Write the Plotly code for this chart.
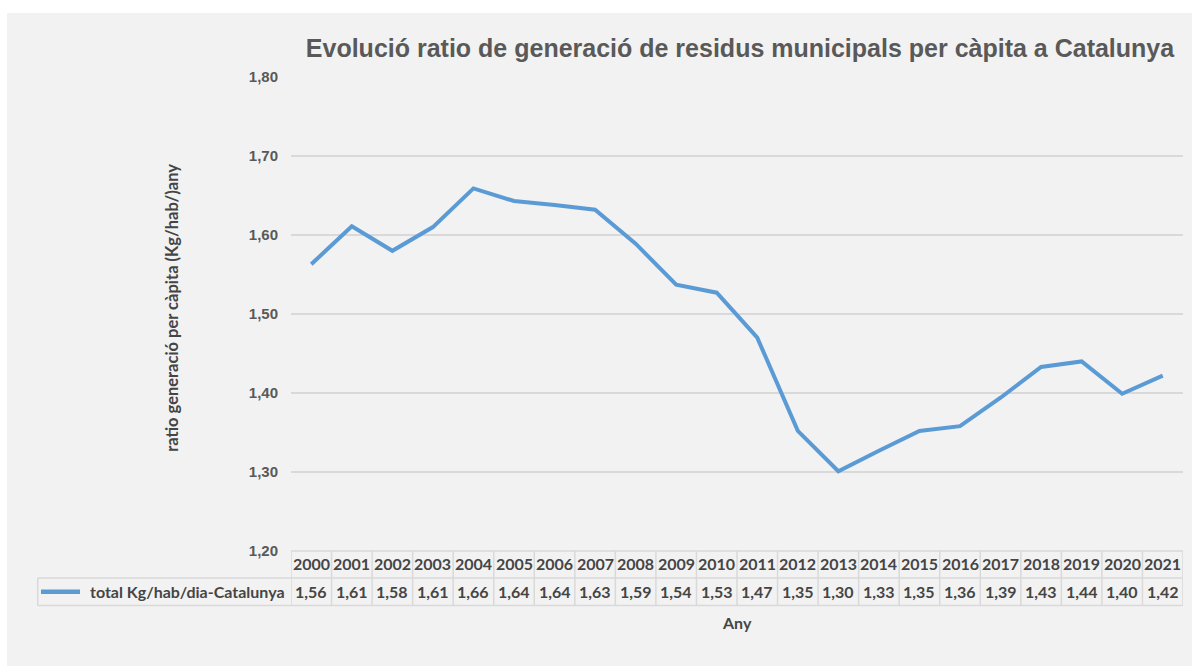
import plotly.graph_objects as go

years = list(range(2000, 2022))
values = [1.563, 1.611, 1.580, 1.610, 1.659, 1.643, 1.638, 1.632, 1.589, 1.537, 1.527,
          1.470, 1.352, 1.301, 1.327, 1.352, 1.358, 1.394, 1.433, 1.440, 1.399, 1.422]
series_name = "total Kg/hab/dia-Catalunya"
y_ticks = [1.2, 1.3, 1.4, 1.5, 1.6, 1.7, 1.8]

title = "Evolució ratio de generació de residus municipals per càpita a Catalunya"
y_title = "ratio generació per càpita (Kg/hab/)any"
x_title = "Any"

BLUE = "#5b9bd5"
GRID = "#d9d9d9"
TXT = "#595959"
TBL_TXT = "#454545"
TBL_FONT = "Lato"

fig = go.Figure()
fig.add_trace(go.Scatter(x=years, y=values, mode="lines", name=series_name,
                         line=dict(color=BLUE, width=4), showlegend=False))

shapes = []
annotations = []

# background (white border top/left as in the reference)
shapes.append(dict(type="rect", xref="paper", yref="paper",
                   x0=(7 - 291) / 892, x1=(1192 - 291) / 892,
                   y0=-(666 - 551) / 474, y1=(551 - 13) / 474,
                   fillcolor="#f2f2f2", line=dict(width=0), layer="below"))

row1 = -0.057
row2 = -0.115
hdr_y = -0.026
val_y = -0.086
leg_left = (37.7 - 291) / 892

# table horizontal lines
shapes.append(dict(type="line", xref="x", yref="paper", x0=years[0] - 0.5, x1=years[-1] + 0.5,
                   y0=0, y1=0, line=dict(color=GRID, width=1.5)))
for yy in (row1, row2):
    shapes.append(dict(type="line", xref="paper", yref="paper", x0=leg_left, x1=1,
                       y0=yy, y1=yy, line=dict(color=GRID, width=1.5)))
# legend cell left border
shapes.append(dict(type="line", xref="paper", yref="paper", x0=leg_left, x1=leg_left,
                   y0=row1, y1=row2, line=dict(color=GRID, width=1.5)))
# vertical cell borders
for yr in years + [years[-1] + 1]:
    shapes.append(dict(type="line", xref="x", yref="paper", x0=yr - 0.5, x1=yr - 0.5,
                       y0=0, y1=row2, line=dict(color=GRID, width=1.5)))

# legend key line
shapes.append(dict(type="line", xref="paper", yref="paper",
                   x0=(41 - 291) / 892, x1=(80 - 291) / 892, y0=val_y, y1=val_y,
                   line=dict(color=BLUE, width=4.5)))

tbl_font = dict(family=TBL_FONT, size=16, color=TBL_TXT, weight="bold")
for yr, v in zip(years, values):
    annotations.append(dict(x=yr, y=hdr_y, xref="x", yref="paper", text=str(yr),
                            showarrow=False, font=tbl_font, xanchor="center", yanchor="middle"))
    annotations.append(dict(x=yr, y=val_y, xref="x", yref="paper",
                            text=f"{v:.2f}".replace(".", ","),
                            showarrow=False, font=tbl_font, xanchor="center", yanchor="middle"))

annotations.append(dict(x=(287 - 291) / 892, y=val_y, xref="paper", yref="paper", text=series_name,
                        showarrow=False, font=tbl_font, xanchor="right", yanchor="middle"))
annotations.append(dict(x=0.5, y=-0.15, xref="paper", yref="paper", text=x_title,
                        showarrow=False, font=tbl_font, xanchor="center", yanchor="middle"))
annotations.append(dict(x=-0.1334, y=0.513, xref="paper", yref="paper", text=y_title,
                        textangle=-90, showarrow=False,
                        font=dict(family=TBL_FONT, size=16.5, color=TBL_TXT, weight="bold"),
                        xanchor="center", yanchor="middle"))

fig.update_layout(
    width=1192, height=666,
    margin=dict(l=291, r=9, t=77, b=115),
    paper_bgcolor="white",
    plot_bgcolor="rgba(0,0,0,0)",
    separators=",.",
    title=dict(text=title, x=740 / 1192, xref="container", xanchor="center",
               y=1 - 48 / 666, yref="container", yanchor="middle",
               font=dict(family="Liberation Sans", size=25, color=TXT, weight="bold")),
    xaxis=dict(range=[years[0] - 0.5, years[-1] + 0.5], showticklabels=False, showgrid=False,
               zeroline=False, showline=False, ticks=""),
    yaxis=dict(range=[1.2, 1.8], tickvals=y_ticks, tickformat=".2f", showgrid=True,
               gridcolor=GRID, gridwidth=1.5, zeroline=False, showline=False, ticks="",
               ticklabelstandoff=12,
               tickfont=dict(family="Liberation Sans", size=15, color=TXT, weight="bold")),
    shapes=shapes,
    annotations=annotations,
)

fig.write_html("out.html", config={"displayModeBar": False},
               post_script="document.body.style.margin='0';document.body.style.overflow='hidden';")
